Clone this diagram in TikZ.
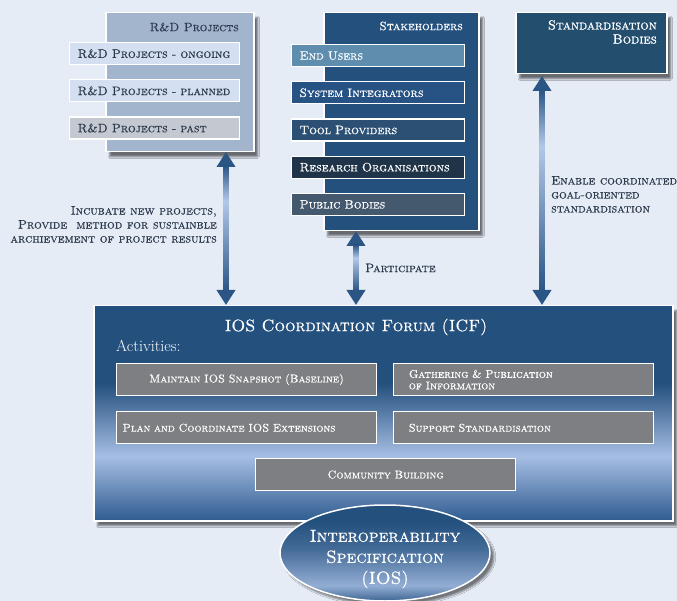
\documentclass[tikz,border=0pt]{standalone}
\usepackage{fontspec}
\usepackage{tikz}
\usetikzlibrary{positioning,arrows.meta,calc,shapes.geometric,shadows.blur}

% caps face used for all the box and arrow texts
\newfontfamily\capsfont{lmromancaps10-regular.otf}[FakeBold=0.6]

\definecolor{bgblue}{HTML}{E6ECF6}
\definecolor{rndfill}{HTML}{A3B4CD}
\definecolor{itemlight}{HTML}{D4E0F1}
\definecolor{itempast}{HTML}{C4C8D0}
\definecolor{stake}{HTML}{24507E}
\definecolor{endusers}{HTML}{5E8DAD}
\definecolor{sysint}{HTML}{275384}
\definecolor{toolprov}{HTML}{2B5073}
\definecolor{research}{HTML}{1F3448}
\definecolor{public}{HTML}{44586E}
\definecolor{stdbody}{HTML}{244E6E}
\definecolor{actgray}{HTML}{7E7F83}
\definecolor{darktext}{HTML}{2C3A4D}
\definecolor{flowdark}{HTML}{2A5585}
\definecolor{flowlight}{HTML}{B2C8E8}
\definecolor{icflight}{HTML}{A6BEE3}
\definecolor{icfbottom}{HTML}{2F5C90}

% vertical shadings, 25bp = bottom edge, 75bp = top edge
\pgfdeclareverticalshading{icfshade}{100bp}{color(0bp)=(icfbottom); color(25bp)=(icfbottom);
  color(40bp)=(icflight); color(57bp)=(stake); color(75bp)=(stake); color(100bp)=(stake)}
\pgfdeclareverticalshading{iosshade}{100bp}{color(0bp)=(stake!80!icflight); color(25bp)=(stake!80!icflight);
  color(33bp)=(icflight!85!stake); color(52bp)=(stake!75!icflight); color(66bp)=(stake); color(100bp)=(stake)}
\pgfdeclareverticalshading{flowshade}{100bp}{color(0bp)=(flowdark); color(25bp)=(flowdark);
  color(61bp)=(flowlight); color(75bp)=(flowdark); color(100bp)=(flowdark)}

\tikzset{
  panel/.style={draw=white,line width=1.5pt,anchor=north west,inner sep=0pt,
    blur shadow={shadow xshift=4pt,shadow yshift=-5pt,shadow opacity=55,shadow blur steps=6}},
  title/.style={inner sep=0pt,font=\fontsize{12}{14}\capsfont},
  item/.style={draw=white,line width=1.2pt,anchor=north west,inner xsep=8pt,inner ysep=2pt,
    minimum height=22pt,text width=#1,align=left,font=\fontsize{12.2}{14}\capsfont},
  act/.style={draw=white,line width=1.2pt,fill=actgray,anchor=north west,inner xsep=6pt,inner ysep=2pt,
    minimum height=32pt,text=white,font=\fontsize{11.2}{11.5}\capsfont},
  note/.style={inner sep=0pt,text=darktext,font=\fontsize{12.2}{14}\capsfont},
  flow/.style={{Triangle[width=18pt,length=15pt]}-{Triangle[width=18pt,length=15pt]},
    line width=5pt,draw=flowdark,fill=flowdark},
}

\begin{document}
\begin{tikzpicture}[x=1pt,y=-1pt]
  \useasboundingbox (0,0) rectangle (677,601);
  \fill[bgblue] (0,0) rectangle (677,601);

  % R&D projects
  \node[panel,fill=rndfill,minimum width=148pt,minimum height=139pt] (rnd) at (105,12) {};
  \node[title,text=darktext,anchor=east] (rndtitle) at (239,27) {R\&D Projects};
  \node[item=154pt,fill=itemlight,text=darktext] (ongoing) at (69,42) {R\&D Projects - ongoing};
  \node[item=154pt,fill=itemlight,text=darktext,below=14pt of ongoing] (planned) {R\&D Projects - planned};
  \node[item=154pt,fill=itempast,text=darktext,below=14pt of planned] (past) {R\&D Projects - past};

  % stakeholders
  \node[panel,fill=stake,minimum width=155pt,minimum height=218pt] (stk) at (323,12) {};
  \node[title,text=white,anchor=east] (stktitle) at (463,26) {Stakeholders};
  \node[item=157pt,fill=endusers,text=white] (users) at (291,44) {End Users};
  \node[item=157pt,fill=sysint,text=white,below=14pt of users] (integrators) {System Integrators};
  \node[item=157pt,fill=toolprov,text=white,below=14pt of integrators] (tools) {Tool Providers};
  \node[item=157pt,fill=research,text=white,below=14pt of tools] (orgs) {Research Organisations};
  \node[item=157pt,fill=public,text=white,below=14pt of orgs] (publicb) {Public Bodies};

  % standardisation bodies
  \node[panel,fill=stdbody,minimum width=151pt,minimum height=61pt] (std) at (515,12) {};
  \node[title,text=white,anchor=north east,align=right,font=\fontsize{13.2}{14}\capsfont]
    (stdtitle) at (657,20) {Standardisation\\Bodies};

  % coordination forum
  \node[panel,shade,shading=icfshade,minimum width=579pt,minimum height=215pt] (icf) at (93,305) {};
  \node[inner sep=0pt,text=white,font=\fontsize{16.5}{18}\capsfont] (icftitle) at (356,327)
    {IOS Coordination Forum (ICF)};
  \node[inner sep=0pt,anchor=west,text=white,font=\fontsize{16}{18}\selectfont] (activities) at (116,346)
    {Activities:};
  \node[act,text width=248pt,align=center] (snapshot) at (116,363) {Maintain IOS Snapshot (Baseline)};
  \node[act,text width=230pt,inner xsep=15pt,align=left,right=16pt of snapshot] (gathering)
    {Gathering \& Publication\\of Information};
  \node[act,text width=248pt,align=left,below=15pt of snapshot] (extensions) {Plan and Coordinate IOS Extensions};
  \node[act,text width=230pt,inner xsep=15pt,align=left,below=15pt of gathering] (support) {Support Standardisation};
  \node[act,text width=248pt,align=center] (community) at (255,458) {Community Building};

  % specification, its text sits a little below the centre
  \node[ellipse,draw=white,line width=1.5pt,shade,shading=iosshade,minimum width=210pt,minimum height=96pt,
    blur shadow={shadow xshift=4pt,shadow yshift=-4pt,shadow opacity=50,shadow blur steps=6}]
    (ios) at (385,553) {};
  \node[inner sep=0pt,align=center,text=white,font=\fontsize{17.5}{21}\capsfont] (iostext)
    at ($(ios.center)+(0,6)$) {Interoperability\\Specification\\(IOS)};

  % connectors into the forum
  \coordinate (rndout) at (226,152);
  \coordinate (stkout) at (356,231);
  \coordinate (stdout) at (542,76);
  \foreach \c in {rndout,stkout,stdout} {
    \draw[flow] (\c) -- (\c |- icf.north);
    \shade[shading=flowshade] ($(\c)+(-2.5,14)$) rectangle ($(\c |- icf.north)+(2.5,-14)$);
  }

  \node[note,anchor=north east,align=right] (incubate) at (217,206)
    {Incubate new projects,\\Provide\ \ method for sustainble\\archievement of project results};
  \node[note,anchor=west] (participate) at (365,268) {Participate};
  \node[note,anchor=north west,align=left] (enable) at (551,176) {Enable coordinated\\goal-oriented\\standardisation};
\end{tikzpicture}
\end{document}
